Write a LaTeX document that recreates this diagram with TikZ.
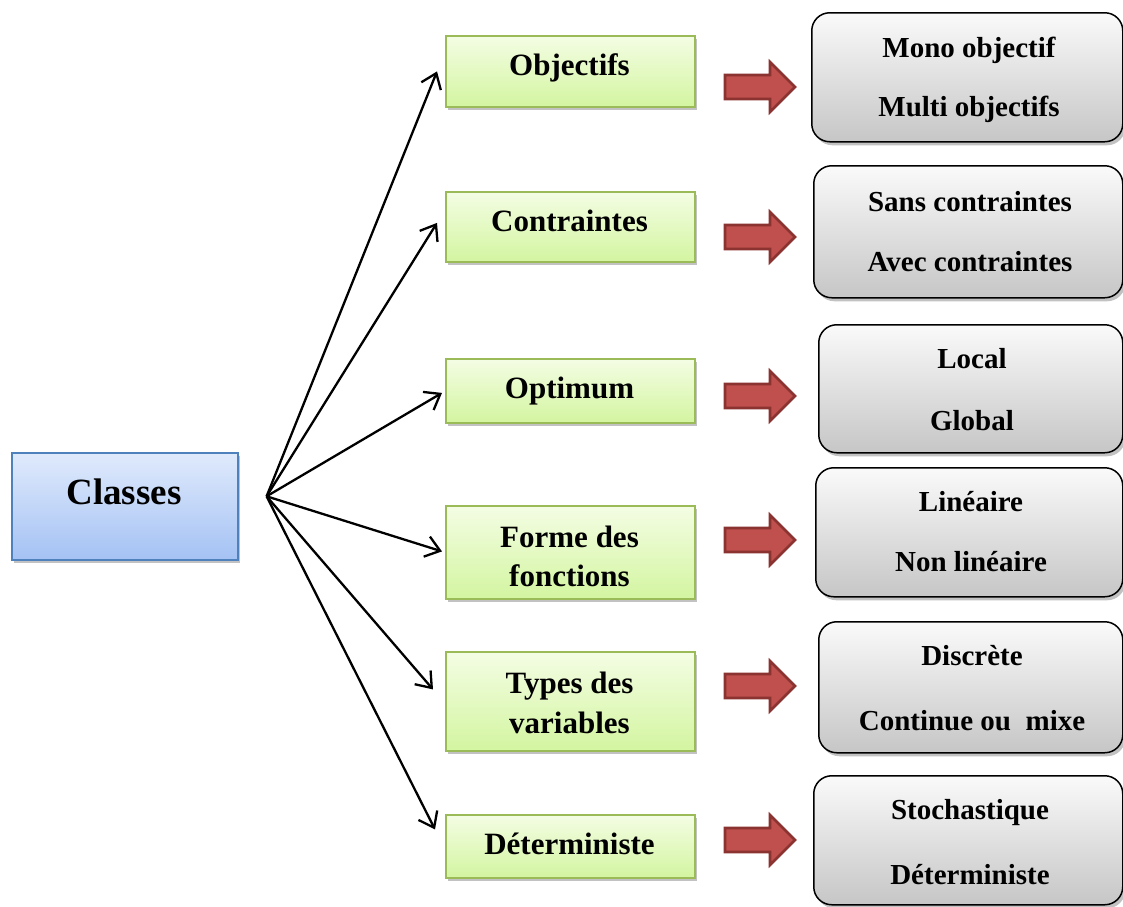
\documentclass[tikz,border=0pt]{standalone}
\usepackage{fontspec}
\setmainfont{Liberation Serif}
\usetikzlibrary{arrows.meta,shadows,calc}

\definecolor{greenedge}{HTML}{9BBB59}
\definecolor{greentop}{HTML}{F4FDE4}
\definecolor{greenbot}{HTML}{D3F5A0}
\definecolor{blueedge}{HTML}{4F81BD}
\definecolor{bluetop}{HTML}{E0EAFC}
\definecolor{bluebot}{HTML}{A4C2F4}
\definecolor{graytop}{HTML}{FAFAFA}
\definecolor{graybot}{HTML}{C6C6C6}
\definecolor{redfill}{HTML}{C0504D}
\definecolor{rededge}{HTML}{8A3330}

\tikzset{
  boxshadow/.style={drop shadow={shadow xshift=2.5pt,shadow yshift=-3.5pt,opacity=0.4,fill=black!60}},
  classbox/.style={draw=blueedge,line width=1.6pt,top color=bluetop,bottom color=bluebot,
    boxshadow,inner sep=0pt,anchor=north west},
  greenbox/.style={draw=greenedge,line width=1.8pt,top color=greentop,bottom color=greenbot,
    boxshadow,inner sep=0pt,anchor=north west,minimum width=249pt},
  graybox/.style={draw=black,line width=1.5pt,top color=graytop,bottom color=graybot,
    rounded corners=18pt,boxshadow,inner sep=0pt,anchor=north west},
  bigtext/.style={font=\fontsize{37}{40}\selectfont\bfseries,inner sep=0pt,anchor=base},
  midtext/.style={font=\fontsize{31}{34}\selectfont\bfseries,inner sep=0pt,anchor=base},
  smalltext/.style={font=\fontsize{29}{32}\selectfont\bfseries,inner sep=0pt,anchor=base},
  branch/.style={line width=2.3pt,-{Straight Barb[length=14pt,width=21pt,line width=2.3pt]}},
  redarrow/.style={fill=redfill,draw=rededge,line width=2.6pt,line join=miter},
}

\begin{document}
\begin{tikzpicture}[x=1pt,y=-1pt]
\useasboundingbox (0,0) rectangle (1123,906);

% root
\node[classbox,minimum width=226pt,minimum height=107pt] (classes) at (11,452) {};
\node[bigtext] (classestxt) at (124,504) {Classes};

% criteria
\node[greenbox,minimum height=71pt] (g1) at (445,35) {};
\node[midtext] (g1a) at (569.5,75) {Objectifs};

\node[greenbox,minimum height=70pt] (g2) at (445,191) {};
\node[midtext] (g2a) at (569.5,231) {Contraintes};

\node[greenbox,minimum height=64pt] (g3) at (445,358) {};
\node[midtext] (g3a) at (569.5,398) {Optimum};

\node[greenbox,minimum height=93pt] (g4) at (445,505) {};
\node[midtext] (g4a) at (569.5,547) {Forme des};
\node[midtext] (g4b) at (569.5,586) {fonctions};

\node[greenbox,minimum height=99pt] (g5) at (445,651) {};
\node[midtext] (g5a) at (569.5,693) {Types des};
\node[midtext] (g5b) at (569.5,733) {variables};

\node[greenbox,minimum height=63pt] (g6) at (445,814) {};
\node[midtext] (g6a) at (569.5,854) {Déterministe};

% values of each criterion
\node[graybox,minimum width=311pt,minimum height=129pt] (v1) at (811,12) {};
\node[smalltext] (v1a) at (969,57) {Mono objectif};
\node[smalltext] (v1b) at (969,116) {Multi objectifs};

\node[graybox,minimum width=309pt,minimum height=132pt] (v2) at (813,165) {};
\node[smalltext] (v2a) at (970,211) {Sans contraintes};
\node[smalltext] (v2b) at (970,271) {Avec contraintes};

\node[graybox,minimum width=304pt,minimum height=128pt] (v3) at (818,324) {};
\node[smalltext] (v3a) at (972,368) {Local};
\node[smalltext] (v3b) at (972,430) {Global};

\node[graybox,minimum width=307pt,minimum height=129pt] (v4) at (815,467) {};
\node[smalltext] (v4a) at (971,511) {Linéaire};
\node[smalltext] (v4b) at (971,571) {Non linéaire};

\node[graybox,minimum width=304pt,minimum height=131pt] (v5) at (818,621) {};
\node[smalltext] (v5a) at (972,665) {Discrète};
\node[smalltext] (v5b) at (972,730) {Continue ou\ \ mixe};

\node[graybox,minimum width=309pt,minimum height=129pt] (v6) at (813,775) {};
\node[smalltext] (v6a) at (970,819) {Stochastique};
\node[smalltext] (v6b) at (970,884) {Déterministe};

% branches from the root
\coordinate (hub) at ([xshift=28pt,yshift=10pt]classes.east);
\draw[branch] (hub) -- ([xshift=-8pt]g1.west);
\draw[branch] (hub) -- ([xshift=-8pt,yshift=4pt]g2.west);
\draw[branch] (hub) -- ([xshift=-3pt,yshift=-2pt]g3.west);
\draw[branch] (hub) -- ([xshift=-3pt,yshift=1pt]g4.west);
\draw[branch] (hub) -- ([xshift=-12pt,yshift=12pt]g5.west);
\draw[branch] (hub) -- ([xshift=-10pt,yshift=17pt]g6.west);

% block arrows towards the values
\foreach \c in {87,237,396,540,686,840}{
  \draw[redarrow] (725,\c-12) -- (770,\c-12) -- (770,\c-25) -- (795,\c)
    -- (770,\c+25) -- (770,\c+12) -- (725,\c+12) -- cycle;
}
\end{tikzpicture}
\end{document}
